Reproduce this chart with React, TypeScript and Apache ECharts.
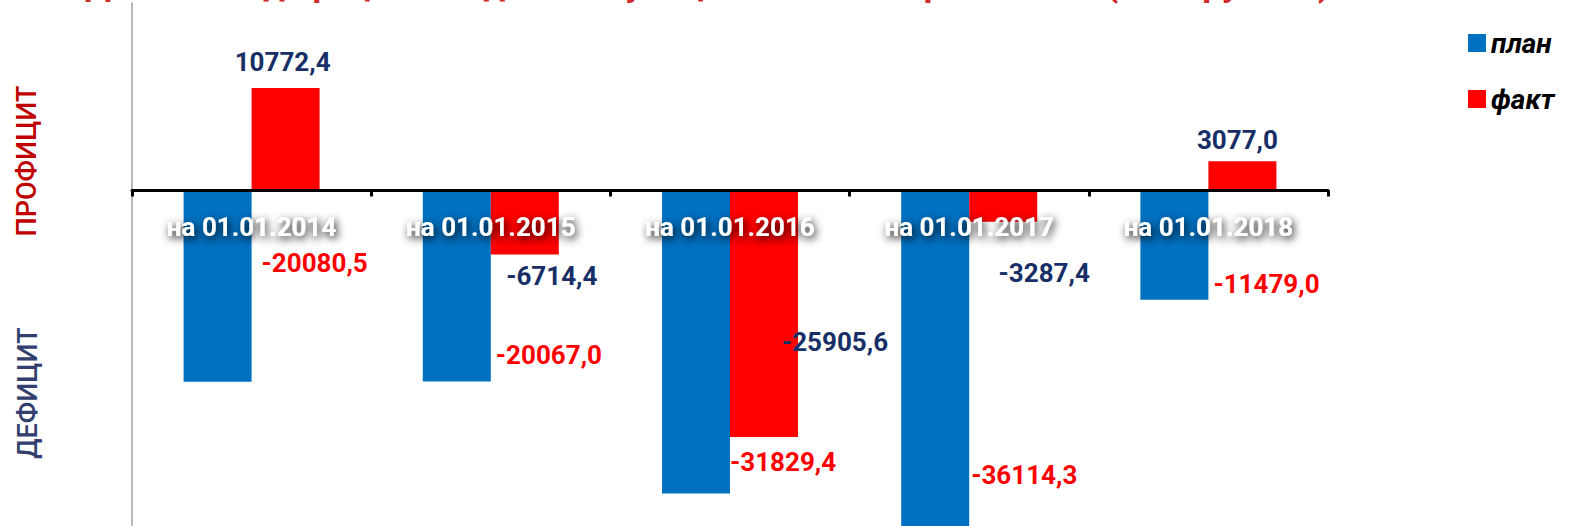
import React, { useEffect, useRef } from "react";
import * as echarts from "echarts";

const categories = ["на 01.01.2014", "на 01.01.2015", "на 01.01.2016", "на 01.01.2017", "на 01.01.2018"];
const planValues = [-20080.5, -20067.0, -31829.4, -36114.3, -11479.0];
const factValues = [10772.4, -6714.4, -25905.6, -3287.4, 3077.0];
const seriesNames = ["план", "факт"];
const titleText = "Динамика дефицита бюджета муниципального образования (тыс. рублей)";

// label placement tweaks (pixels, relative to bar end)
const planLabelOffsets = [[44, -119], [39, -26], [34, -31], [36, -59], [39, -16]];
const factLabelOffsets = [[-3, -26], [27, 22], [71, -95], [41, 51], [-5, -21]];

const FONT = "Roboto, 'Noto Sans', sans-serif";
const fmt = (v: number) => v.toFixed(1).replace(".", ",");

export default function App() {
  const ref = useRef<HTMLDivElement>(null);
  useEffect(() => {
    if (!ref.current) return;
    const chart = echarts.init(ref.current, undefined, { renderer: "svg" });
    const planData = planValues.map((v, i) => ({
      value: v,
      label: {
        position: v < 0 ? "bottom" : "top",
        distance: 0,
        align: "left",
        verticalAlign: "middle",
        offset: planLabelOffsets[i],
      },
    }));
    const factData = factValues.map((v, i) => ({
      value: v,
      label: {
        position: v < 0 ? "bottom" : "top",
        distance: 0,
        align: "center",
        verticalAlign: "middle",
        offset: factLabelOffsets[i],
      },
    }));
    chart.setOption({
      animation: false,
      backgroundColor: "#ffffff",
      textStyle: { fontFamily: FONT },
      grid: {
        left: 132,
        right: 249,
        top: 3,
        bottom: -10,
        containLabel: false,
        outerBoundsMode: "none",
      },
      legend: {
        orient: "vertical",
        left: 1463,
        top: 24,
        itemWidth: 18,
        itemHeight: 18,
        itemGap: 28,
        icon: "rect",
        textStyle: {
          fontFamily: FONT,
          fontSize: 28,
          fontWeight: "bold",
          fontStyle: "italic",
          color: "#000000",
          lineHeight: 28,
        },
        data: seriesNames,
      },
      graphic: [
        {
          type: "text",
          x: 85,
          y: 2,
          silent: true,
          style: {
            text: titleText,
            fill: "#d02a2a",
            font: `bold 35px ${FONT}`,
            verticalAlign: "bottom",
            align: "left",
          },
        },
        {
          type: "text",
          x: 27,
          y: 161,
          rotation: Math.PI / 2,
          silent: true,
          style: {
            text: "ПРОФИЦИТ",
            fill: "#c00000",
            font: `500 27px ${FONT}`,
            align: "center",
            verticalAlign: "middle",
          },
        },
        {
          type: "text",
          x: 28,
          y: 393,
          rotation: Math.PI / 2,
          silent: true,
          style: {
            text: "ДЕФИЦИТ",
            fill: "#323f6f",
            font: `500 27px ${FONT}`,
            align: "center",
            verticalAlign: "middle",
          },
        },
      ],
      xAxis: [
        {
          type: "category",
          data: categories,
          z: 5,
          axisLine: { onZero: true, lineStyle: { color: "#000000", width: 3 } },
          axisTick: { show: true, length: 6, inside: false, lineStyle: { color: "#000000", width: 3 } },
          axisLabel: { show: false },
          splitLine: { show: false },
        },
        {
          type: "category",
          data: categories,
          position: "bottom",
          offset: -322,
          z: 10,
          axisLine: { show: false, onZero: false },
          axisTick: { show: false },
          axisLabel: {
            interval: 0,
            margin: 0,
            color: "#ffffff",
            fontFamily: FONT,
            fontSize: 26,
            fontWeight: "bold",
            textShadowColor: "rgba(0,0,0,0.95)",
            textShadowBlur: 8,
            textShadowOffsetX: 2,
            textShadowOffsetY: 3,
          },
          splitLine: { show: false },
        },
      ],
      yAxis: {
        type: "value",
        min: -36300,
        max: 19700,
        axisLine: { show: true, onZero: false, lineStyle: { color: "#a0a0a0", width: 1.5 } },
        axisTick: { show: false },
        axisLabel: { show: false },
        splitLine: { show: false },
      },
      series: [
        {
          name: seriesNames[0],
          type: "bar",
          xAxisIndex: 0,
          data: planData,
          barWidth: 68,
          barGap: "0%",
          itemStyle: { color: "#0070c0" },
          label: {
            show: true,
            formatter: (p: any) => fmt(p.value),
            color: "#ff0000",
            fontFamily: FONT,
            fontSize: 26,
            fontWeight: "bold",
          },
        },
        {
          name: seriesNames[1],
          type: "bar",
          xAxisIndex: 0,
          data: factData,
          barWidth: 68,
          barGap: "0%",
          itemStyle: { color: "#ff0000" },
          label: {
            show: true,
            formatter: (p: any) => fmt(p.value),
            color: "#172f66",
            fontFamily: FONT,
            fontSize: 26,
            fontWeight: "bold",
          },
        },
      ],
    });
    return () => chart.dispose();
  }, []);
  return (
    <div
      ref={ref}
      style={{ position: "absolute", left: 0, top: 0, width: 1577, height: 526 }}
    />
  );
}
